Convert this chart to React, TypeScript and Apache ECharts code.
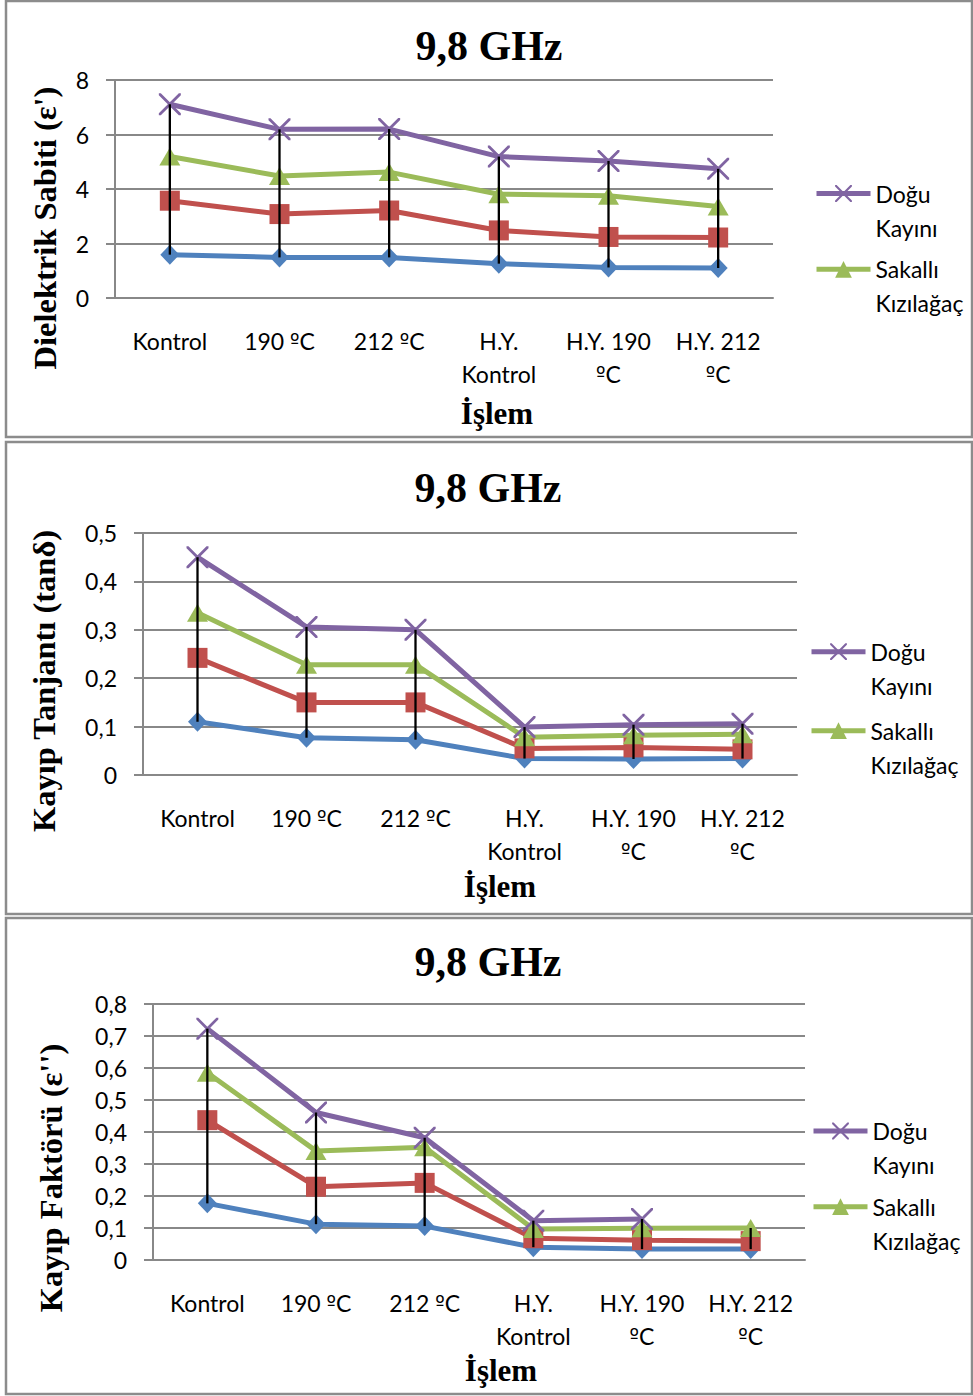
import React, { useEffect, useRef } from "react";
import * as echarts from "echarts";

// ---------- data ----------
const CATEGORIES = ["Kontrol", "190 ºC", "212 ºC", "H.Y. Kontrol", "H.Y. 190 ºC", "H.Y. 212 ºC"];
const SERIES_NAMES = ["Seri 1", "Seri 2", "Sakallı Kızılağaç", "Doğu Kayını"];
const LEGEND_NAMES = ["Doğu Kayını", "Sakallı Kızılağaç"];
const TITLE_TEXT = "9,8 GHz";
const X_TITLE = "İşlem";

// Panel 1: Dielektrik Sabiti (ε')
const P1_BLUE = [1.59, 1.49, 1.49, 1.26, 1.12, 1.1];
const P1_RED = [3.57, 3.08, 3.21, 2.48, 2.24, 2.22];
const P1_GREEN = [5.19, 4.48, 4.62, 3.81, 3.75, 3.36];
const P1_PURPLE = [7.11, 6.19, 6.2, 5.19, 5.03, 4.74];

// Panel 2: Kayıp Tanjantı (tanδ)
const P2_BLUE = [0.11, 0.077, 0.073, 0.034, 0.033, 0.034];
const P2_RED = [0.242, 0.15, 0.15, 0.055, 0.057, 0.053];
const P2_GREEN = [0.335, 0.228, 0.228, 0.078, 0.082, 0.084];
const P2_PURPLE = [0.45, 0.306, 0.3, 0.099, 0.104, 0.106];

// Panel 3: Kayıp Faktörü (ε'')
const P3_BLUE = [0.177, 0.112, 0.106, 0.04, 0.034, 0.034];
const P3_RED = [0.437, 0.229, 0.241, 0.068, 0.062, 0.059];
const P3_GREEN = [0.585, 0.341, 0.352, 0.097, 0.099, 0.1];
const P3_PURPLE = [0.723, 0.461, 0.382, 0.123, 0.128, null];

const Y_TITLES = ["Dielektrik Sabiti (ε')", "Kayıp Tanjantı (tanδ)", "Kayıp Faktörü (ε'')"];
const Y_MAX = [8, 0.5, 0.8];
const Y_INTERVAL = [2, 0.1, 0.1];

// ---------- styles / layout ----------
const COLORS = ["#4F81BD", "#C0504D", "#9BBB59", "#8064A2"];
const X_PATH =
  "path://M0,0 L9,0 L50,41 L91,0 L100,0 L100,9 L59,50 L100,91 L100,100 L91,100 L50,59 L9,100 L0,100 L0,91 L41,50 L0,9 Z";
const SYMBOLS = ["diamond", "rect", "triangle", X_PATH];
const SYMBOL_SIZES: any[] = [[19, 20], [20, 20], [21, 18], [22, 22]];
const GRAY = "#888888";
const SANS = "Lato";
const SERIF = '"Liberation Serif", "Times New Roman", serif';
const LABEL_SIZE = 23;
const LABEL_LINE = 33;

const LAYOUT = [
  {
    border: { x: 6, y: 1, width: 966, height: 436 },
    grid: { left: 115, top: 80, width: 658, height: 218 },
    title: [489, 46],
    yTitle: [45, 228],
    xTitle: [497, 413],
    legendLeft: 814,
    legendY: [193.5, 269.3],
  },
  {
    border: { x: 6, y: 442, width: 966, height: 472 },
    grid: { left: 143, top: 533, width: 654, height: 242 },
    title: [488, 488],
    yTitle: [44, 681],
    xTitle: [500, 886],
    legendLeft: 809,
    legendY: [651.7, 730.7],
  },
  {
    border: { x: 6, y: 918, width: 966, height: 476 },
    grid: { left: 153, top: 1004, width: 652, height: 256 },
    title: [488, 962],
    yTitle: [51, 1178],
    xTitle: [501, 1370],
    legendLeft: 811,
    legendY: [1131, 1206.7],
  },
];

const PANEL_DATA = [
  [P1_BLUE, P1_RED, P1_GREEN, P1_PURPLE],
  [P2_BLUE, P2_RED, P2_GREEN, P2_PURPLE],
  [P3_BLUE, P3_RED, P3_GREEN, P3_PURPLE],
];

const LEGEND_LINE_HEIGHT = 34;

function fmtY(v: number) {
  const r = Math.round(v * 100) / 100;
  return String(r).replace(".", ",");
}

// greedy word wrap (as the spreadsheet wrapped the category labels), then
// mark the ordinal sign so it is drawn with a font that underlines it
function fmtX(v: string) {
  const words = v.split(" ");
  const lines: string[] = [];
  let cur = "";
  words.forEach((w) => {
    const next = cur ? cur + " " + w : w;
    if (next.length > 8 && cur) {
      lines.push(cur);
      cur = w;
    } else {
      cur = next;
    }
  });
  if (cur) lines.push(cur);
  return lines
    .map((ln) => ln.split("º").map((p) => (p ? "{t|" + p + "}" : "")).join("{o|º}"))
    .join("\n");
}

function buildOption() {
  const grids: any[] = [];
  const xAxes: any[] = [];
  const yAxes: any[] = [];
  const series: any[] = [];
  const legends: any[] = [];
  const graphics: any[] = [];

  PANEL_DATA.forEach((panel, i) => {
    const L = LAYOUT[i];
    grids.push({ ...L.grid, containLabel: false, outerBoundsMode: "none" });
    xAxes.push({
      gridIndex: i,
      type: "category",
      data: CATEGORIES,
      boundaryGap: true,
      axisLine: { show: true, lineStyle: { color: GRAY, width: 2 } },
      axisTick: { show: false },
      splitLine: { show: false },
      axisLabel: {
        interval: 0,
        color: "#000",
        fontFamily: SANS,
        fontSize: LABEL_SIZE,
        lineHeight: LABEL_LINE,
        margin: 26,
        formatter: fmtX,
        rich: {
          t: { color: "#000", fontFamily: SANS, fontSize: LABEL_SIZE, lineHeight: LABEL_LINE },
          o: { color: "#000", fontFamily: '"DejaVu Sans"', fontSize: LABEL_SIZE - 3, lineHeight: LABEL_LINE },
        },
      },
    });
    yAxes.push({
      gridIndex: i,
      type: "value",
      min: 0,
      max: Y_MAX[i],
      interval: Y_INTERVAL[i],
      axisLine: { show: true, lineStyle: { color: GRAY, width: 2 } },
      axisTick: { show: true, inside: false, length: 9, lineStyle: { color: GRAY, width: 2 } },
      splitLine: { show: true, lineStyle: { color: GRAY, width: 2 } },
      axisLabel: {
        color: "#000",
        fontFamily: SANS,
        fontSize: LABEL_SIZE,
        margin: 26,
        formatter: fmtY,
      },
    });

    panel.forEach((vals, j) => {
      series.push({
        type: "line",
        name: SERIES_NAMES[j],
        xAxisIndex: i,
        yAxisIndex: i,
        data: vals,
        symbol: SYMBOLS[j],
        symbolSize: SYMBOL_SIZES[j],
        showSymbol: true,
        showAllSymbol: true,
        connectNulls: false,
        lineStyle: { color: COLORS[j], width: 5 },
        itemStyle: { color: COLORS[j], borderWidth: 0 },
        emphasis: { disabled: true },
        z: 2,
      });
    });

    const hiLo = CATEGORIES.map((_, k) => {
      const vs = panel.map((s) => s[k]).filter((v) => v !== null && v !== undefined) as number[];
      return [k, Math.min(...vs), Math.max(...vs)];
    });
    series.push({
      type: "custom",
      name: "hi-lo",
      xAxisIndex: i,
      yAxisIndex: i,
      data: hiLo,
      encode: { x: 0, y: [1, 2] },
      silent: true,
      z: 10,
      renderItem: (params: any, api: any) => {
        const top = api.coord([api.value(0), api.value(2)]);
        const bot = api.coord([api.value(0), api.value(1)]);
        return {
          type: "line",
          shape: { x1: top[0], y1: top[1], x2: bot[0], y2: bot[1] },
          style: { stroke: "#000", lineWidth: 2.3 },
        };
      },
    });

    LEGEND_NAMES.forEach((nm, k) => {
      legends.push({
        data: [nm],
        orient: "vertical",
        left: L.legendLeft,
        top: L.legendY[k] - (LEGEND_LINE_HEIGHT * 3) / 2,
        padding: 0,
        itemGap: 0,
        itemWidth: 54,
        itemHeight: 21,
        selectedMode: false,
        lineStyle: { width: 5 },
        formatter: (n: string) => "\n" + n.replace(" ", "\n"),
        textStyle: {
          color: "#000",
          fontFamily: SANS,
          fontSize: LABEL_SIZE,
          lineHeight: LEGEND_LINE_HEIGHT,
        },
      });
    });

    graphics.push({
      type: "rect",
      shape: L.border,
      style: { fill: "none", stroke: "#8c8c8c", lineWidth: 2.5 },
      silent: true,
    });
    graphics.push({
      type: "text",
      x: L.title[0],
      y: L.title[1],
      style: {
        text: TITLE_TEXT,
        fontFamily: SERIF,
        fontWeight: "bold",
        fontSize: 42,
        fill: "#000",
        align: "center",
        verticalAlign: "middle",
      },
    });
    graphics.push({
      type: "text",
      x: L.yTitle[0],
      y: L.yTitle[1],
      rotation: Math.PI / 2,
      style: {
        text: Y_TITLES[i],
        fontFamily: SERIF,
        fontWeight: "bold",
        fontSize: 32.5,
        fill: "#000",
        align: "center",
        verticalAlign: "middle",
      },
    });
    graphics.push({
      type: "text",
      x: L.xTitle[0],
      y: L.xTitle[1],
      style: {
        text: X_TITLE,
        fontFamily: SERIF,
        fontWeight: "bold",
        fontSize: 31,
        fill: "#000",
        align: "center",
        verticalAlign: "middle",
      },
    });
  });

  return {
    animation: false,
    backgroundColor: "#ffffff",
    grid: grids,
    xAxis: xAxes,
    yAxis: yAxes,
    legend: legends,
    series,
    graphic: graphics,
    tooltip: { show: false },
  };
}

export default function App() {
  const ref = useRef<HTMLDivElement>(null);
  useEffect(() => {
    if (!ref.current) return;
    const chart = echarts.init(ref.current, undefined, { renderer: "svg" });
    chart.setOption(buildOption() as any);
    return () => chart.dispose();
  }, []);
  return (
    <div
      ref={ref}
      style={{ position: "absolute", left: 0, top: 0, width: 973, height: 1396, background: "#fff" }}
    />
  );
}
